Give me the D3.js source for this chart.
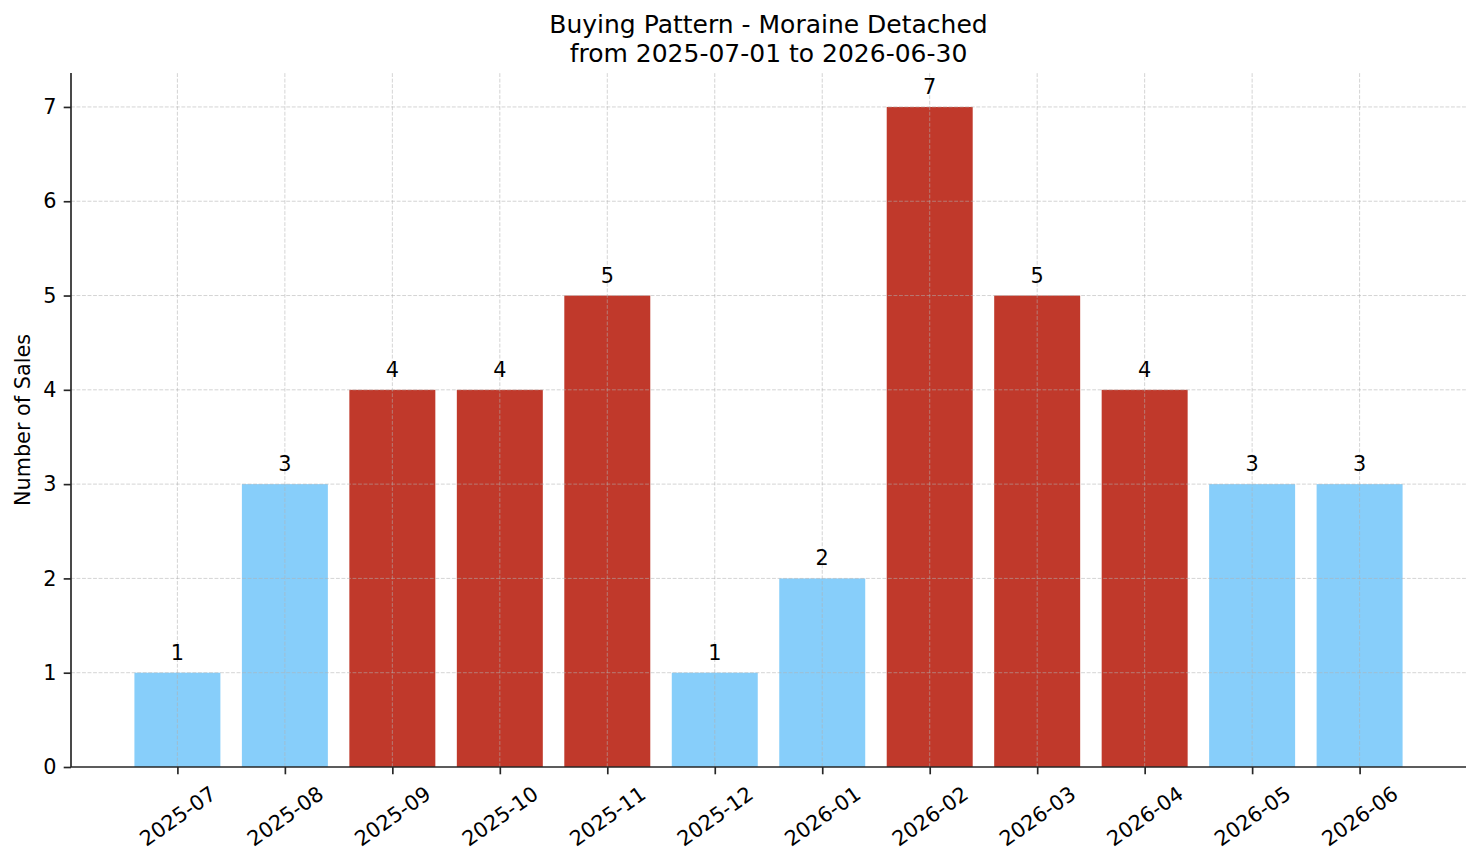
<!DOCTYPE html>
<html>
<head>
<meta charset="utf-8">
<script src="https://cdn.jsdelivr.net/npm/d3@7"></script>
<style>
  html, body { margin: 0; padding: 0; background: #fff; }
  svg text { font-family: "DejaVu Sans", sans-serif; fill: #000; }
</style>
</head>
<body>
<div id="chart"></div>
<script>
// Chart data.
const months = ["2025-07", "2025-08", "2025-09", "2025-10", "2025-11", "2025-12",
                "2026-01", "2026-02", "2026-03", "2026-04", "2026-05", "2026-06"];
const sales = [1, 3, 4, 4, 5, 1, 2, 7, 5, 4, 3, 3];
const highlight = [false, false, true, true, true, false, false, true, true, true, false, false];
const yTicks = [0, 1, 2, 3, 4, 5, 6, 7];
const titleLines = ["Buying Pattern - Moraine Detached", "from 2025-07-01 to 2026-06-30"];

const width = 1481;
const height = 863;
const margin = {top: 73, right: 15, bottom: 96, left: 71};

const svg = d3.select("#chart")
  .append("svg")
    .attr("width", width)
    .attr("height", height);

// Bars sit at integer positions, matplotlib-style padding on both ends.
const x = d3.scaleLinear()
    .domain([-0.99, months.length - 1 + 0.99])
    .range([margin.left, width - margin.right]);

const y = d3.scaleLinear()
    .domain([0, 7.36])
    .range([height - margin.bottom, margin.top]);

const barW = x(0.4) - x(-0.4);

// Bars
svg.append("g")
  .selectAll("rect")
  .data(sales)
  .join("rect")
    .attr("x", (d, i) => x(i) - barW / 2)
    .attr("y", d => y(d))
    .attr("width", barW)
    .attr("height", d => y(0) - y(d))
    .attr("fill", (d, i) => highlight[i] ? "#c0392b" : "#87cefa");

// Grid, drawn over the bars
const grid = svg.append("g")
    .attr("stroke", "#b0b0b0")
    .attr("stroke-opacity", 0.55)
    .attr("stroke-width", 1)
    .attr("stroke-dasharray", "3.85,1.67");

grid.selectAll("line.h")
  .data(yTicks.slice(1))
  .join("line")
    .attr("class", "h")
    .attr("x1", margin.left).attr("x2", width - margin.right)
    .attr("y1", d => y(d)).attr("y2", d => y(d));

grid.selectAll("line.v")
  .data(months)
  .join("line")
    .attr("class", "v")
    .attr("x1", (d, i) => x(i)).attr("x2", (d, i) => x(i))
    .attr("y1", y(0)).attr("y2", margin.top);

// Value labels
svg.append("g")
  .selectAll("text")
  .data(sales)
  .join("text")
    .attr("x", (d, i) => x(i))
    .attr("y", d => y(d) - 13)
    .attr("text-anchor", "middle")
    .attr("font-size", 20.8)
    .text(d => d);

// Y axis
const yAxis = svg.append("g")
    .attr("transform", `translate(${margin.left},0)`)
    .call(d3.axisLeft(y).tickValues(yTicks).tickSize(7.3).tickPadding(7.3).tickFormat(d3.format("d")));
yAxis.select(".domain").attr("stroke", "#262626").attr("stroke-width", 1.67)
    .attr("d", `M0,${y(0)}V${margin.top}`);
yAxis.selectAll(".tick line").attr("stroke", "#262626").attr("stroke-width", 1.67);
yAxis.selectAll(".tick text").attr("font-size", 20.8).attr("font-family", "DejaVu Sans").attr("fill", "#000");

// X axis
const xAxis = svg.append("g")
    .attr("transform", `translate(0,${y(0)})`)
    .call(d3.axisBottom(x).tickValues(d3.range(months.length)).tickSize(7.3).tickFormat(i => months[i]));
xAxis.select(".domain").attr("stroke", "#262626").attr("stroke-width", 1.67)
    .attr("d", `M${margin.left},0H${width - margin.right}`);
xAxis.selectAll(".tick line").attr("stroke", "#262626").attr("stroke-width", 1.67);

// Rotated labels: centre the rotated box under the tick, like matplotlib does.
const angle = 35;
const rad = angle * Math.PI / 180;
xAxis.selectAll(".tick text")
    .attr("font-size", 20.8)
    .attr("font-family", "DejaVu Sans")
    .attr("fill", "#000")
    .attr("text-anchor", "middle")
    .attr("dy", null)
    .attr("dominant-baseline", "central")
    .each(function() {
      const len = this.getComputedTextLength();
      const h = 20.8 * 1.164;
      const boxH = len * Math.sin(rad) + h * Math.cos(rad);
      const cy = 7.3 + 7.3 + boxH / 2;
      d3.select(this)
        .attr("y", 0)
        .attr("transform", `translate(0,${cy}) rotate(${-angle})`);
    });

// Y axis label
svg.append("text")
    .attr("transform", `translate(23,${(y(0) + margin.top) / 2}) rotate(-90)`)
    .attr("text-anchor", "middle")
    .attr("dominant-baseline", "central")
    .attr("font-size", 20.8)
    .text("Number of Sales");

// Title
svg.append("g")
  .selectAll("text")
  .data(titleLines)
  .join("text")
    .attr("x", x((months.length - 1) / 2))
    .attr("y", (d, i) => 33 + i * 29)
    .attr("text-anchor", "middle")
    .attr("font-size", 25)
    .text(d => d);
</script>
</body>
</html>
